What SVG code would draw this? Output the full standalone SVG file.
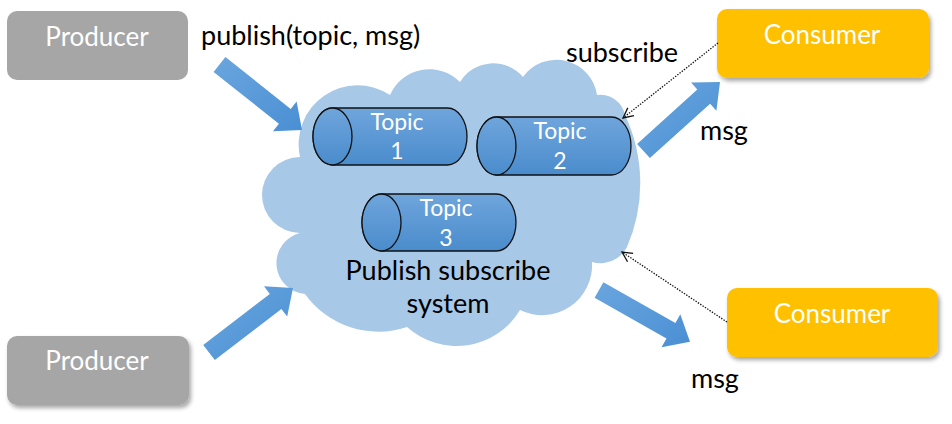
<svg xmlns="http://www.w3.org/2000/svg" width="952" height="424" viewBox="0 0 952 424">
  <defs>
    <style>
      .lbl { font-family: Lato, "Liberation Sans", sans-serif; fill: #000; font-size: 27px; }
      .box-text { font-family: Lato, "Liberation Sans", sans-serif; fill: #fff; font-size: 26px; text-anchor: middle; }
      .topic-text { font-family: Lato, "Liberation Sans", sans-serif; fill: #fff; font-size: 23px; text-anchor: middle; }
      .cyl { fill: url(#cylGrad); stroke: #111; stroke-width: 1.3; }
      .barrow { fill: url(#arrGrad); }
      .dotted { fill: none; stroke: #111; stroke-width: 1.3; stroke-dasharray: 1.4 1.4; }
      .producer { fill: #a6a6a6; }
      .consumer { fill: #ffc000; }
    </style>
    <linearGradient id="cylGrad" x1="0" y1="0" x2="0" y2="1">
      <stop offset="0" stop-color="#6fa5dc"/>
      <stop offset="1" stop-color="#4a8ccc"/>
    </linearGradient>
    <linearGradient id="arrGrad" x1="0" y1="0" x2="1" y2="1">
      <stop offset="0" stop-color="#6aa6de"/>
      <stop offset="1" stop-color="#4a8fd4"/>
    </linearGradient>
    <filter id="shadow" x="-10%" y="-10%" width="130%" height="140%">
      <feDropShadow dx="2" dy="3" stdDeviation="2" flood-color="#000" flood-opacity="0.35"/>
    </filter>
    <marker id="open" markerWidth="14" markerHeight="14" refX="12" refY="7" orient="auto" markerUnits="userSpaceOnUse">
      <polyline points="2,2 12,7 2,12" fill="none" stroke="#111" stroke-width="1.3"/>
    </marker>
  </defs>

  <g id="cloud">
    <path d="M 300,157 A 59 59 0 0 1 390,95 A 43 43 0 0 1 460,82 A 39 39 0 0 1 523,77 A 41 41 0 0 1 597,95 A 25 25 0 0 1 625,115 A 160 160 0 0 1 627,247 A 30 30 0 0 1 592,262 A 50 50 0 0 1 520,310 A 74 74 0 0 1 407,327 A 90 90 0 0 1 305,294 A 31 31 0 0 1 300,233 A 38 38 0 0 1 300,157 Z" fill="#a8c8e8"/>
  </g>

  <g id="topic1">
    <path class="cyl" d="M 332.5,108 H 447.5 A 19.5 28.5 0 0 1 447.5,165 H 332.5 A 19.5 28.5 0 0 1 332.5,108 Z"/>
    <ellipse class="cyl" cx="332.5" cy="136.5" rx="19.5" ry="28.5"/>
    <text class="topic-text" x="397" y="130">Topic</text>
    <text class="topic-text" x="397" y="159">1</text>
  </g>
  <g id="topic2">
    <path class="cyl" d="M 496.5,117 H 611.5 A 19.5 29 0 0 1 611.5,175 H 496.5 A 19.5 29 0 0 1 496.5,117 Z"/>
    <ellipse class="cyl" cx="496.5" cy="146" rx="19.5" ry="29"/>
    <text class="topic-text" x="560" y="139">Topic</text>
    <text class="topic-text" x="560" y="169">2</text>
  </g>
  <g id="topic3">
    <path class="cyl" d="M 381.5,194 H 496.5 A 19.5 28.5 0 0 1 496.5,251 H 381.5 A 19.5 28.5 0 0 1 381.5,194 Z"/>
    <ellipse class="cyl" cx="381.5" cy="222.5" rx="19.5" ry="28.5"/>
    <text class="topic-text" x="446" y="216">Topic</text>
    <text class="topic-text" x="446" y="246">3</text>
  </g>

  <g id="system-label">
    <text class="lbl" x="448" y="280" text-anchor="middle">Publish subscribe</text>
    <text class="lbl" x="448" y="313" text-anchor="middle">system</text>
  </g>

  <g id="producer1">
    <rect class="producer" x="7" y="11" width="181" height="69" rx="10"/>
    <text class="box-text" x="97" y="46">Producer</text>
  </g>
  <g id="producer2">
    <rect class="producer" x="7" y="336" width="182" height="69" rx="10" filter="url(#shadow)"/>
    <text class="box-text" x="97" y="370">Producer</text>
  </g>
  <g id="consumer1">
    <rect class="consumer" x="717" y="9" width="212" height="69" rx="10" filter="url(#shadow)"/>
    <text class="box-text" x="822" y="44">Consumer</text>
  </g>
  <g id="consumer2">
    <rect class="consumer" x="727" y="288" width="211" height="69" rx="10" filter="url(#shadow)"/>
    <text class="box-text" x="832" y="323">Consumer</text>
  </g>

  <g id="connectors">
    <polygon class="barrow" points="213.6,71.9 278.9,123.7 273,131.2 302,130 296.6,101.4 290.7,108.9 225.4,57.1"/>
    <polygon class="barrow" points="214.8,360 281.4,308.9 287.2,316.5 293,288 264,286.3 269.8,293.9 203.2,345"/>
    <polygon class="barrow" points="649.9,158.1 710.1,103.8 716.4,110.8 720,82 691,82.6 697.3,89.6 637.1,143.9"/>
    <polygon class="barrow" points="594.6,297.8 666.5,338.6 661.5,347.3 690,341.7 680.3,314.3 675.4,323 603.4,282.2"/>
    <line class="dotted" x1="718" y1="43" x2="623" y2="118" marker-end="url(#open)"/>
    <line class="dotted" x1="727" y1="322" x2="622" y2="252" marker-end="url(#open)"/>
    <text class="lbl" x="201" y="45">publish(topic, msg)</text>
    <text class="lbl" x="566" y="62">subscribe</text>
    <text class="lbl" x="700" y="140">msg</text>
    <text class="lbl" x="691" y="388">msg</text>
  </g>
</svg>
